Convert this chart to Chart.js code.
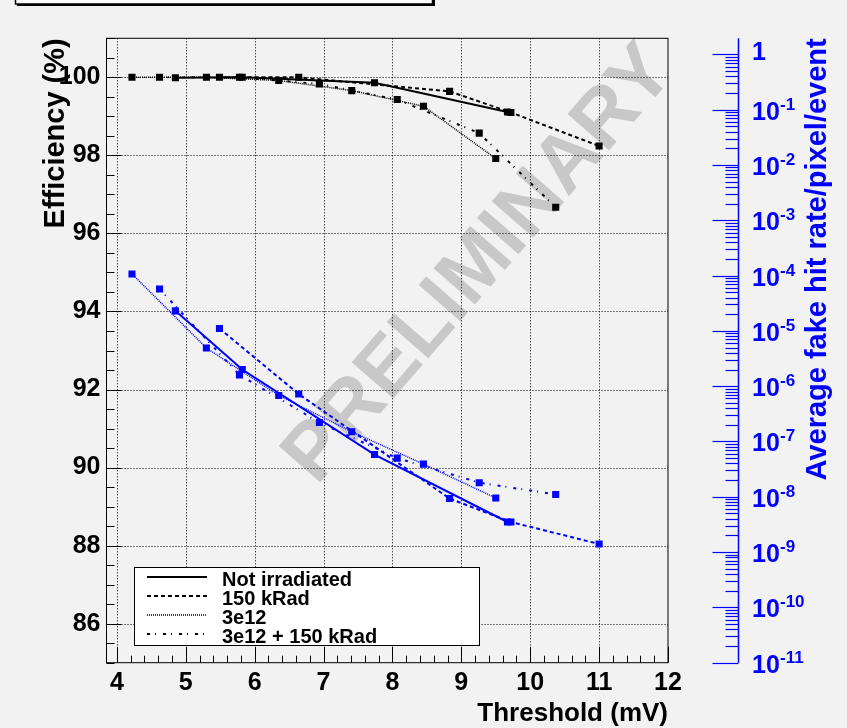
<!DOCTYPE html>
<html>
<head>
<meta charset="utf-8">
<script src="https://cdn.jsdelivr.net/npm/chart.js@4.4.1/dist/chart.umd.min.js"></script>
<style>
  html, body { margin: 0; padding: 0; background: #f2f2f2; }
  canvas { display: block; }
</style>
</head>
<body>
<canvas id="chart-eff" width="847" height="728"></canvas>
<script>
// legend order
const seriesNames = ['Not irradiated', '150 kRad', '3e12', '3e12 + 150 kRad'];

// threshold (mV)
const thrNotIrr = [4.85, 5.82, 7.74, 9.67];
const thr150k   = [5.49, 6.64, 8.83, 9.72, 11.0];
const thr3e12   = [4.22, 5.30, 6.35, 7.41, 8.45, 9.50];
const thr3e12k  = [4.62, 5.78, 6.94, 8.07, 9.26, 10.37];

// efficiency (%), left axis
const effNotIrr = [99.99, 100.0, 99.86, 99.11];
const eff150k   = [100.0, 100.0, 99.64, 99.10, 98.24];
const eff3e12   = [100.0, 100.0, 99.92, 99.66, 99.26, 97.92];
const eff3e12k  = [100.0, 100.0, 99.83, 99.43, 98.57, 96.67];

// average fake hit rate / pixel / event, right axis
const fakeNotIrr = [2.3e-5, 2.0e-6, 5.8e-8, 3.5e-9];
const fake150k   = [1.1e-5, 7.2e-7, 9.3e-9, 3.5e-9, 1.4e-9];
const fake3e12   = [1.07e-4, 4.9e-6, 6.8e-7, 1.5e-7, 3.9e-8, 9.5e-9];
const fake3e12k  = [5.7e-5, 1.6e-6, 2.2e-7, 5.0e-8, 1.8e-8, 1.1e-8];

// tick labels
const xTicks = [4, 5, 6, 7, 8, 9, 10, 11, 12];
const effTicks = [86, 88, 90, 92, 94, 96, 98, 100];
const rateExps = [0, -1, -2, -3, -4, -5, -6, -7, -8, -9, -10, -11];

const BLACK = '#000000';
const BLUE = '#0000ff';
const FAMILY = "'Liberation Sans', Arial, Helvetica, sans-serif";
const dashes = [[], [4, 3], [1, 1], [3, 5, 1, 7]];
const widths = [2, 2, 1.5, 2];

const thr = [thrNotIrr, thr150k, thr3e12, thr3e12k];
const eff = [effNotIrr, eff150k, eff3e12, eff3e12k];
const fake = [fakeNotIrr, fake150k, fake3e12, fake3e12k];

function pts(xs, ys) {
  return xs.map((x, i) => ({ x: x, y: ys[i] }));
}

function series(label, data, axis, color, i) {
  return {
    label: label,
    data: data,
    yAxisID: axis,
    borderColor: color,
    backgroundColor: color,
    borderDash: dashes[i],
    borderWidth: widths[i],
    pointStyle: 'rect',
    pointRadius: 5,
    pointBorderWidth: 0,
    tension: 0
  };
}

const datasets = [];
for (let i = 0; i < 4; i++) {
  datasets.push(series(seriesNames[i] + ' (rate)', pts(thr[i], fake[i]), 'y2', BLUE, i));
}
for (let i = 0; i < 4; i++) {
  datasets.push(series(seriesNames[i], pts(thr[i], eff[i]), 'y', BLACK, i));
}

function line(c, x1, y1, x2, y2) {
  c.beginPath();
  c.moveTo(x1, y1);
  c.lineTo(x2, y2);
  c.stroke();
}

// frame, grid, inward ticks, right axis, titles, legend, watermark
const decor = {
  id: 'decor',
  beforeDraw(chart) {
    const c = chart.ctx;
    c.save();
    c.fillStyle = '#f2f2f2';
    c.fillRect(0, 0, chart.width, chart.height);
    // title pave, cut by the top edge
    c.fillStyle = '#000';
    c.fillRect(17, -5, 418, 11);
    c.fillStyle = '#fff';
    c.fillRect(15, -5, 418, 9);
    c.strokeStyle = '#000';
    c.lineWidth = 1.5;
    c.strokeRect(15.5, -5, 417, 9);
    c.restore();
  },
  beforeDatasetsDraw(chart) {
    const c = chart.ctx;
    const a = chart.chartArea;
    const sx = chart.scales.x, sy = chart.scales.y;
    c.save();
    // PRELIMINARY watermark
    c.translate(480, 265);
    c.rotate(-49 * Math.PI / 180);
    c.fillStyle = '#c8c8c8';
    c.font = 'bold 80px ' + FAMILY;
    c.textAlign = 'center';
    c.textBaseline = 'middle';
    c.fillText('PRELIMINARY', 0, 0);
    c.restore();

    c.save();
    c.strokeStyle = '#000';
    c.lineWidth = 1;
    c.setLineDash([1, 2]);
    xTicks.forEach(v => {
      const px = Math.round(sx.getPixelForValue(v)) + 0.5;
      if (px < a.right - 2) line(c, px, a.top, px, a.bottom);
    });
    effTicks.forEach(v => {
      const py = Math.round(sy.getPixelForValue(v)) + 0.5;
      line(c, a.left, py, a.right, py);
    });
    c.restore();
  },
  afterDraw(chart) {
    const c = chart.ctx;
    const a = chart.chartArea;
    const sx = chart.scales.x, sy = chart.scales.y, sr = chart.scales.y2;
    c.save();
    c.strokeStyle = '#000';
    c.lineWidth = 1;
    c.strokeRect(a.left, a.top, a.right - a.left, a.bottom - a.top);

    // x ticks, pointing up
    for (let k = 0; k < xTicks.length; k++) {
      const v = xTicks[k];
      const px = Math.round(sx.getPixelForValue(v)) + 0.5;
      line(c, px, a.bottom, px, a.bottom - 16);
      if (k < xTicks.length - 1) {
        for (let m = 1; m < 5; m++) {
          const qx = Math.round(sx.getPixelForValue(v + m * 0.2)) + 0.5;
          line(c, qx, a.bottom, qx, a.bottom - 7);
        }
      }
    }
    // left y ticks, pointing right
    for (let v = 85; v <= 101; v += 0.5) {
      const py = Math.round(sy.getPixelForValue(v)) + 0.5;
      const major = effTicks.indexOf(v) >= 0;
      line(c, a.left, py, a.left + (major ? 15 : 8), py);
    }

    // right log axis
    const axX = 738.5;
    const pTop = a.top;
    const pBot = sr.getPixelForValue(1e-11);
    c.strokeStyle = BLUE;
    c.fillStyle = BLUE;
    c.lineWidth = 1.5;
    line(c, axX, pTop, axX, pBot);
    c.lineWidth = 1.2;
    rateExps.forEach(e => {
      const py = Math.round(sr.getPixelForValue(Math.pow(10, e))) + 0.5;
      line(c, axX - 26, py, axX, py);
      for (let m = 2; m <= 9; m++) {
        const v = m * Math.pow(10, e);
        if (v > sr.max) continue;
        const q = Math.round(sr.getPixelForValue(v)) + 0.5;
        line(c, axX - 13, q, axX, q);
      }
      c.textAlign = 'left';
      c.textBaseline = 'middle';
      if (e === 0) {
        c.font = 'bold 25px ' + FAMILY;
        c.fillText('1', 752, py - 1);
      } else {
        c.font = 'bold 25px ' + FAMILY;
        c.fillText('10', 752, py + 3);
        c.font = 'bold 17px ' + FAMILY;
        c.fillText(String(e), 780, py - 5);
      }
    });

    // axis titles
    c.save();
    c.translate(818, a.top);
    c.rotate(-Math.PI / 2);
    c.font = 'bold 29px ' + FAMILY;
    c.textAlign = 'right';
    c.textBaseline = 'middle';
    c.fillStyle = BLUE;
    c.fillText('Average fake hit rate/pixel/event', 0, 0);
    c.restore();

    c.save();
    c.translate(56, a.top);
    c.rotate(-Math.PI / 2);
    c.font = 'bold 29px ' + FAMILY;
    c.textAlign = 'right';
    c.textBaseline = 'middle';
    c.fillStyle = '#000';
    c.fillText('Efficiency (%)', 0, 0);
    c.restore();

    c.fillStyle = '#000';
    c.font = 'bold 26px ' + FAMILY;
    c.textAlign = 'right';
    c.textBaseline = 'alphabetic';
    c.fillText('Threshold (mV)', a.right, 721);

    // legend
    c.fillStyle = '#fff';
    c.fillRect(134.5, 567.5, 345, 78);
    c.strokeStyle = '#000';
    c.lineWidth = 1;
    c.setLineDash([]);
    c.strokeRect(134.5, 567.5, 345, 78);
    c.font = 'bold 20px ' + FAMILY;
    c.textAlign = 'left';
    c.textBaseline = 'alphabetic';
    c.fillStyle = '#000';
    for (let i = 0; i < 4; i++) {
      const ly = 577 + i * 19;
      c.lineWidth = widths[i];
      c.setLineDash(dashes[i]);
      line(c, 147, ly, 207, ly);
      c.setLineDash([]);
      c.fillText(seriesNames[i], 222, 585.5 + i * 19);
    }
    c.restore();
  }
};

const chartObj = document.getElementById('chart-eff');
const tickFont = { family: FAMILY, size: 25, weight: 'bold' };

new Chart(chartObj, {
  type: 'line',
  data: { datasets: datasets },
  options: {
    responsive: false,
    animation: false,
    events: [],
    layout: { padding: { top: 38.3, left: 0, right: 0, bottom: 0 } },
    plugins: {
      legend: { display: false },
      tooltip: { enabled: false }
    },
    scales: {
      x: {
        type: 'linear',
        min: 3.85,
        max: 12,
        afterBuildTicks: s => { s.ticks = xTicks.map(v => ({ value: v })); },
        afterFit: s => { s.height = 728 - 662.7; },
        grid: { display: false, drawTicks: false },
        border: { display: false },
        ticks: {
          autoSkip: false,
          maxRotation: 0,
          padding: 5,
          color: BLACK,
          font: tickFont,
          callback: v => String(v)
        }
      },
      y: {
        type: 'linear',
        position: 'left',
        min: 85,
        max: 101,
        afterBuildTicks: s => { s.ticks = effTicks.map(v => ({ value: v })); },
        afterFit: s => { s.width = 106.5; },
        grid: { display: false, drawTicks: false },
        border: { display: false },
        ticks: {
          autoSkip: false,
          padding: 6,
          color: BLACK,
          font: tickFont,
          callback: v => String(v)
        }
      },
      y2: {
        type: 'logarithmic',
        position: 'right',
        min: 1e-11,
        max: 1.95,
        afterFit: s => { s.width = 847 - 668; },
        grid: { display: false, drawTicks: false },
        border: { display: false },
        ticks: { display: false }
      }
    }
  },
  plugins: [decor]
});
</script>
</body>
</html>
